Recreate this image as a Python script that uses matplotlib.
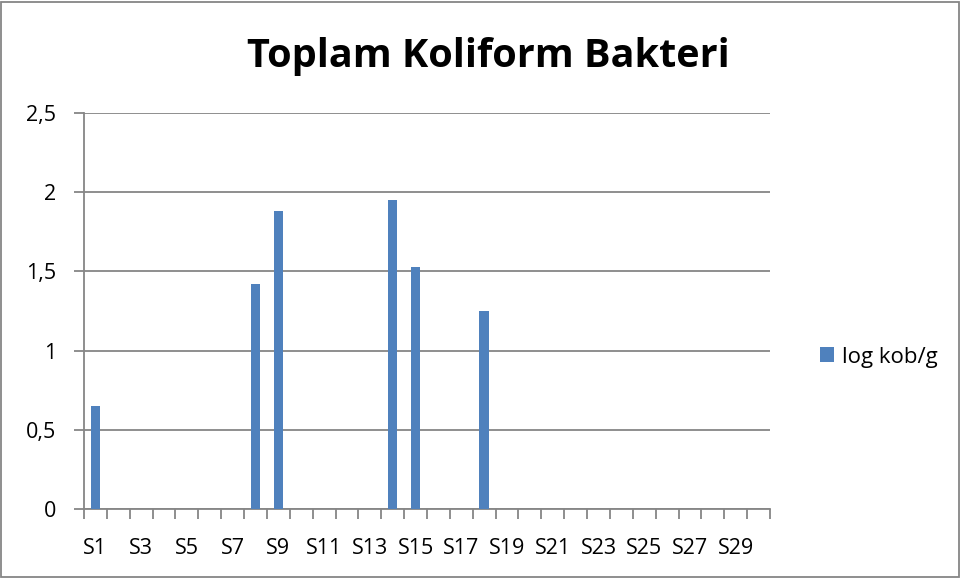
import matplotlib
matplotlib.use("Agg")
import matplotlib.pyplot as plt
from matplotlib.patches import Rectangle

categories = [f"S{i}" for i in range(1, 31)]
values = [0.65, 0, 0, 0, 0, 0, 0, 1.42, 1.88, 0, 0, 0, 0, 1.95, 1.53, 0, 0, 1.25,
          0, 0, 0, 0, 0, 0, 0, 0, 0, 0, 0, 0]
series_name = "log kob/g"
title = "Toplam Koliform Bakteri"
yticks = [0, 0.5, 1, 1.5, 2, 2.5]
ytick_labels = ["0", "0,5", "1", "1,5", "2", "2,5"]

plt.rcParams['font.family'] = ['Open Sans', 'DejaVu Sans']
W, H = 960, 578
fig = plt.figure(figsize=(W/100, H/100), dpi=100)
fig.patch.set_facecolor('white')
fig.add_artist(Rectangle((1/W, 1/H), 1 - 2.5/W, 1 - 2.5/H, transform=fig.transFigure,
                         fill=False, edgecolor='#868686', linewidth=1.3))

left, right, top, bottom = 84, 770, 113, 509
ax = fig.add_axes([left/W, 1 - bottom/H, (right-left)/W, (bottom-top)/H])
bar_color = '#4F81BD'
x = list(range(len(categories)))
ax.bar(x, values, width=0.41, color=bar_color, label=series_name, zorder=3)
ax.set_xlim(-0.5, len(categories) - 0.5)
ax.set_ylim(0, 2.5)
ax.set_yticks(yticks)
ax.set_yticklabels(ytick_labels, fontsize=15.5)
ax.yaxis.grid(True, color='#868686', linewidth=1.3, zorder=0)
ax.set_axisbelow(True)

ax.set_xticks([i - 0.5 for i in range(len(categories) + 1)], minor=False)
ax.set_xticklabels([])
ax.set_xticks(x[::2], minor=True)
ax.set_xticklabels(categories[::2], minor=True, fontsize=15.5)
ax.tick_params(axis='x', which='major', length=7, width=1.3, color='#868686', direction='out')
ax.tick_params(axis='x', which='minor', length=0, pad=21)
ax.tick_params(axis='y', length=7, width=1.3, color='#868686', pad=13)

for s in ['top', 'right']:
    ax.spines[s].set_visible(False)
for s in ['left', 'bottom']:
    ax.spines[s].set_color('#868686')
    ax.spines[s].set_linewidth(1.3)

fig.text(488/W, 1 - 56/H, title, ha='center', va='center', fontsize=28.5, fontweight='bold')

leg = fig.legend(loc='center left', bbox_to_anchor=(800/W, 1 - 357/H), frameon=False,
                 fontsize=16, handlelength=0.65, handleheight=0.65, handletextpad=0.35)

fig.savefig("out.png", dpi=100)
